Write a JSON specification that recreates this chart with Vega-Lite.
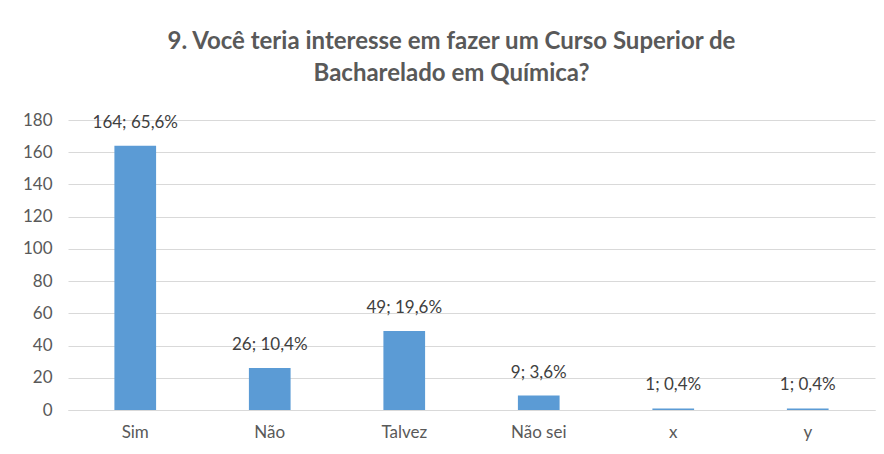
{
  "$schema": "https://vega.github.io/schema/vega-lite/v6.json",
  "width": 807,
  "height": 290,
  "autosize": {"type": "none"},
  "padding": {"left": 68, "top": 120, "right": 9, "bottom": 44},
  "background": "white",
  "title": {
    "text": ["9. Você teria interesse em fazer um Curso Superior de", "Bacharelado em Química?"],
    "anchor": "middle",
    "frame": "group",
    "font": "Lato",
    "fontSize": 24,
    "fontWeight": "bold",
    "color": "#595959",
    "lineHeight": 32,
    "offset": 25,
    "dx": -20
  },
  "data": {
    "values": [
      {"resposta": "Sim", "n": 164, "label": "164; 65,6%"},
      {"resposta": "Não", "n": 26, "label": "26; 10,4%"},
      {"resposta": "Talvez", "n": 49, "label": "49; 19,6%"},
      {"resposta": "Não sei", "n": 9, "label": "9; 3,6%"},
      {"resposta": "x", "n": 1, "label": "1; 0,4%"},
      {"resposta": "y", "n": 1, "label": "1; 0,4%"}
    ]
  },
  "encoding": {
    "x": {
      "field": "resposta",
      "type": "nominal",
      "sort": null,
      "scale": {"paddingInner": 0.69, "paddingOuter": 0.345},
      "axis": {
        "title": null,
        "labelAngle": 0,
        "ticks": false,
        "domainColor": "#d9d9d9",
        "labelPadding": 14,
        "labelFont": "Lato",
        "labelFontSize": 17,
        "labelColor": "#595959",
        "grid": false
      }
    },
    "y": {
      "field": "n",
      "type": "quantitative",
      "scale": {"domain": [0, 180], "nice": false},
      "axis": {
        "title": null,
        "values": [0, 20, 40, 60, 80, 100, 120, 140, 160, 180],
        "domain": false,
        "ticks": false,
        "labelPadding": 16,
        "labelFont": "Lato",
        "labelFontSize": 17,
        "labelColor": "#595959",
        "gridColor": "#d9d9d9",
        "gridWidth": 1
      }
    }
  },
  "layer": [
    {"mark": {"type": "bar", "color": "#5b9bd5"}},
    {
      "mark": {"type": "text", "baseline": "alphabetic", "dy": -18, "font": "Lato", "fontSize": 17, "color": "#404040"},
      "encoding": {"text": {"field": "label"}}
    }
  ],
  "config": {"view": {"stroke": null}}
}
